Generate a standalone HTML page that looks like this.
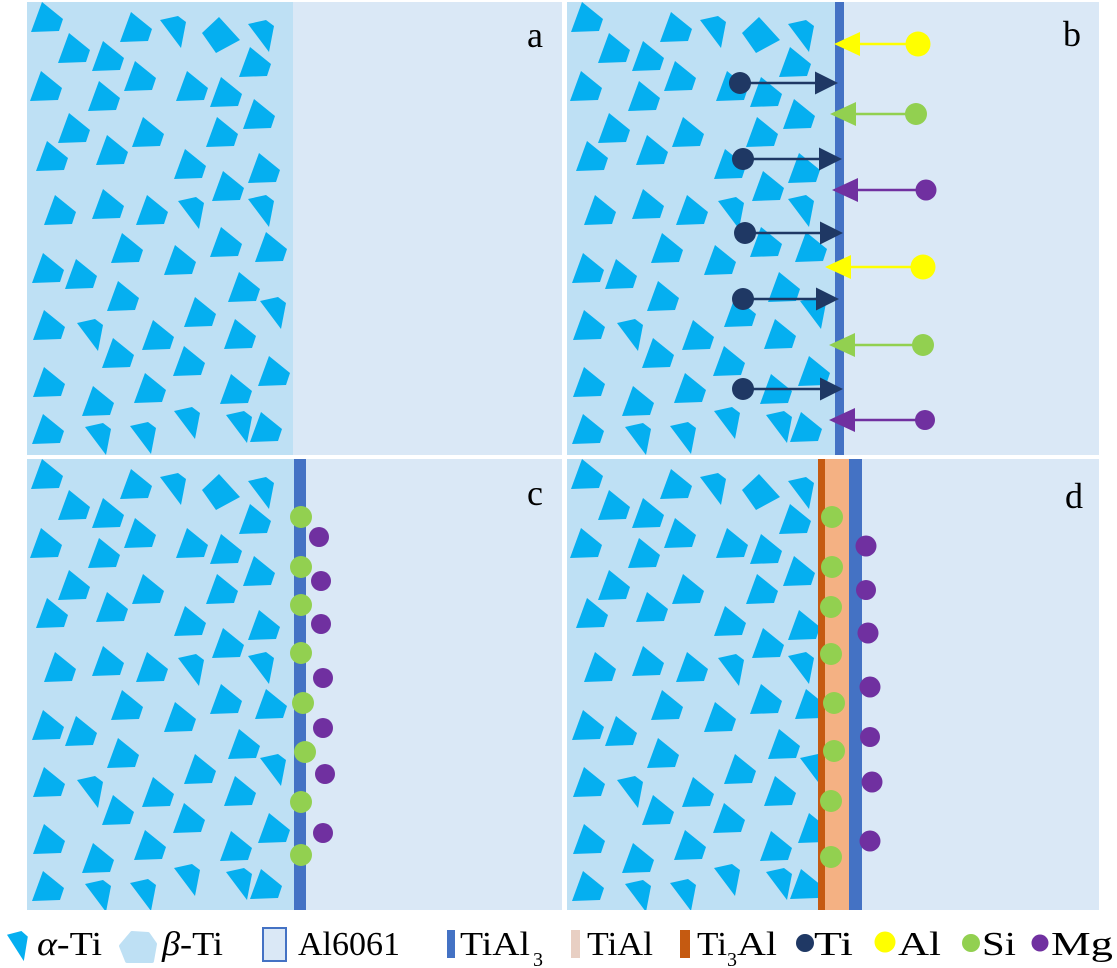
<!DOCTYPE html>
<html>
<head>
<meta charset="utf-8">
<style>
  html, body { margin: 0; padding: 0; background: #ffffff; }
  body { width: 1117px; height: 968px; overflow: hidden; }
  svg { display: block; }
  text { font-family: "Liberation Serif", "DejaVu Serif", serif; fill: #000; }
</style>
</head>
<body>
<svg width="1117" height="968" viewBox="0 0 1117 968" xmlns="http://www.w3.org/2000/svg">
  <defs>
    <polygon id="A" points="0,30 11,0 32,17 28,29" fill="#05aff0"/>
    <polygon id="B" points="0,4 18,0 26,6 21,32" fill="#05aff0"/>
    <polygon id="D" points="0,16 17,0 38,23 14,36" fill="#05aff0"/>
    <g id="pat">
      <use href="#A" x="31" y="2"/>
      <use href="#A" x="120" y="12"/>
      <use href="#A" x="58" y="33"/>
      <use href="#A" x="92" y="41"/>
      <use href="#A" x="239" y="47"/>
      <use href="#A" x="124" y="61"/>
      <use href="#A" x="30" y="71"/>
      <use href="#A" x="176" y="71"/>
      <use href="#A" x="210" y="77"/>
      <use href="#A" x="88" y="81"/>
      <use href="#A" x="243" y="99"/>
      <use href="#A" x="58" y="113"/>
      <use href="#A" x="132" y="117"/>
      <use href="#A" x="206" y="117"/>
      <use href="#A" x="36" y="141"/>
      <use href="#A" x="96" y="135"/>
      <use href="#A" x="174" y="149"/>
      <use href="#A" x="248" y="153"/>
      <use href="#A" x="212" y="171"/>
      <use href="#A" x="44" y="195"/>
      <use href="#A" x="92" y="189"/>
      <use href="#A" x="136" y="195"/>
      <use href="#A" x="111" y="233"/>
      <use href="#A" x="164" y="245"/>
      <use href="#A" x="210" y="227"/>
      <use href="#A" x="255" y="232"/>
      <use href="#A" x="32" y="253"/>
      <use href="#A" x="65" y="259"/>
      <use href="#A" x="107" y="281"/>
      <use href="#A" x="228" y="272"/>
      <use href="#A" x="184" y="297"/>
      <use href="#A" x="33" y="310"/>
      <use href="#A" x="142" y="320"/>
      <use href="#A" x="224" y="319"/>
      <use href="#A" x="102" y="338"/>
      <use href="#A" x="173" y="346"/>
      <use href="#A" x="33" y="367"/>
      <use href="#A" x="258" y="356"/>
      <use href="#A" x="220" y="374"/>
      <use href="#A" x="134" y="373"/>
      <use href="#A" x="82" y="386"/>
      <use href="#A" x="32" y="414"/>
      <use href="#A" x="250" y="412"/>
      <use href="#B" x="160" y="16"/>
      <use href="#B" x="248" y="20"/>
      <use href="#B" x="178" y="197"/>
      <use href="#B" x="248" y="195"/>
      <use href="#B" x="260" y="297"/>
      <use href="#B" x="77" y="319"/>
      <use href="#B" x="85" y="423"/>
      <use href="#B" x="130" y="422"/>
      <use href="#B" x="174" y="407"/>
      <use href="#B" x="226" y="411"/>
      <use href="#D" x="202" y="17"/>
    </g>
    <clipPath id="ca"><rect x="27" y="2" width="266" height="453"/></clipPath>
    <clipPath id="cb"><rect x="567" y="2" width="268" height="453"/></clipPath>
    <clipPath id="cc"><rect x="27" y="459" width="267" height="451"/></clipPath>
    <clipPath id="cd"><rect x="567" y="459" width="251" height="451"/></clipPath>
  </defs>

  <rect x="0" y="0" width="1117" height="968" fill="#ffffff"/>

  <!-- Panel a -->
  <rect x="27" y="2" width="535" height="453" fill="#dae8f6"/>
  <rect x="27" y="2" width="266" height="453" fill="#bee0f4"/>
  <g clip-path="url(#ca)"><use href="#pat"/></g>
  <text x="527" y="47" font-size="36">a</text>

  <!-- Panel b -->
  <rect x="567" y="2" width="532" height="453" fill="#dae8f6"/>
  <rect x="567" y="2" width="268" height="453" fill="#bee0f4"/>
  <g clip-path="url(#cb)"><use href="#pat" transform="translate(540,0)"/></g>
  <rect x="835" y="2" width="9" height="453" fill="#4472c4"/>
  <text x="1063" y="46" font-size="36">b</text>

  <g fill="#1f3864" stroke="#1f3864">
    <line x1="740" y1="83" x2="816" y2="83" stroke-width="2.5"/>
    <circle cx="740" cy="83" r="11" stroke="none"/>
    <polygon points="838,83 815,71.5 815,94.5" stroke="none"/>
    <line x1="743" y1="159" x2="820" y2="159" stroke-width="2.5"/>
    <circle cx="743" cy="159" r="11" stroke="none"/>
    <polygon points="842,159 819,147.5 819,170.5" stroke="none"/>
    <line x1="745" y1="233" x2="821" y2="233" stroke-width="2.5"/>
    <circle cx="745" cy="233" r="11" stroke="none"/>
    <polygon points="843,233 820,221.5 820,244.5" stroke="none"/>
    <line x1="743" y1="299" x2="817" y2="299" stroke-width="2.5"/>
    <circle cx="743" cy="299" r="11" stroke="none"/>
    <polygon points="839,299 816,287.5 816,310.5" stroke="none"/>
    <line x1="743" y1="389" x2="821" y2="389" stroke-width="2.5"/>
    <circle cx="743" cy="389" r="11" stroke="none"/>
    <polygon points="843,389 820,377.5 820,400.5" stroke="none"/>
  </g>

  <g>
    <line x1="858" y1="44" x2="918" y2="44" stroke="#ffff00" stroke-width="2.5"/>
    <circle cx="918" cy="44" r="12.5" fill="#ffff00"/>
    <polygon points="834,44 860,32 860,56" fill="#ffff00"/>
    <line x1="854" y1="114" x2="916" y2="114" stroke="#92d050" stroke-width="2.5"/>
    <circle cx="916" cy="114" r="11" fill="#92d050"/>
    <polygon points="830,114 856,102 856,126" fill="#92d050"/>
    <line x1="856" y1="190" x2="926" y2="190" stroke="#7030a0" stroke-width="2.5"/>
    <circle cx="926" cy="190" r="10.5" fill="#7030a0"/>
    <polygon points="832,190 858,178 858,202" fill="#7030a0"/>
    <line x1="849" y1="267" x2="923" y2="267" stroke="#ffff00" stroke-width="2.5"/>
    <circle cx="923" cy="267" r="12.5" fill="#ffff00"/>
    <polygon points="825,267 851,255 851,279" fill="#ffff00"/>
    <line x1="853" y1="345" x2="923" y2="345" stroke="#92d050" stroke-width="2.5"/>
    <circle cx="923" cy="345" r="11" fill="#92d050"/>
    <polygon points="829,345 855,333 855,357" fill="#92d050"/>
    <line x1="853" y1="420" x2="925" y2="420" stroke="#7030a0" stroke-width="2.5"/>
    <circle cx="925" cy="420" r="10" fill="#7030a0"/>
    <polygon points="829,420 855,408 855,432" fill="#7030a0"/>
  </g>

  <!-- Panel c -->
  <rect x="27" y="459" width="535" height="451" fill="#dae8f6"/>
  <rect x="27" y="459" width="267" height="451" fill="#bee0f4"/>
  <g clip-path="url(#cc)"><use href="#pat" transform="translate(0,457)"/></g>
  <rect x="294" y="459" width="12" height="451" fill="#4472c4"/>
  <text x="527" y="505" font-size="36">c</text>
  <g fill="#92d050">
    <circle cx="301" cy="517" r="11"/>
    <circle cx="301" cy="567" r="11"/>
    <circle cx="301" cy="605" r="11"/>
    <circle cx="301" cy="653" r="11"/>
    <circle cx="303" cy="703" r="11"/>
    <circle cx="305" cy="752" r="11"/>
    <circle cx="301" cy="802" r="11"/>
    <circle cx="301" cy="855" r="11"/>
  </g>
  <g fill="#7030a0">
    <circle cx="319" cy="537" r="10"/>
    <circle cx="321" cy="581" r="10"/>
    <circle cx="321" cy="624" r="10"/>
    <circle cx="323" cy="678" r="10"/>
    <circle cx="323" cy="728" r="10"/>
    <circle cx="325" cy="774" r="10"/>
    <circle cx="323" cy="833" r="10"/>
  </g>

  <!-- Panel d -->
  <rect x="567" y="459" width="532" height="451" fill="#dae8f6"/>
  <rect x="567" y="459" width="251" height="451" fill="#bee0f4"/>
  <g clip-path="url(#cd)"><use href="#pat" transform="translate(540,457)"/></g>
  <rect x="818" y="459" width="7" height="451" fill="#c55a11"/>
  <rect x="825" y="459" width="24" height="451" fill="#f4b183"/>
  <rect x="849" y="459" width="13" height="451" fill="#4472c4"/>
  <text x="1065" y="508" font-size="36">d</text>
  <g fill="#92d050">
    <circle cx="832" cy="517" r="11"/>
    <circle cx="832" cy="567" r="11"/>
    <circle cx="831" cy="607" r="11"/>
    <circle cx="831" cy="654" r="11"/>
    <circle cx="834" cy="703" r="11"/>
    <circle cx="834" cy="751" r="11"/>
    <circle cx="831" cy="801" r="11"/>
    <circle cx="831" cy="857" r="11"/>
  </g>
  <g fill="#7030a0">
    <circle cx="866" cy="546" r="10.5"/>
    <circle cx="866" cy="590" r="10"/>
    <circle cx="868" cy="633" r="10.5"/>
    <circle cx="870" cy="687" r="10.5"/>
    <circle cx="870" cy="737" r="10"/>
    <circle cx="872" cy="782" r="10.5"/>
    <circle cx="870" cy="841" r="10.5"/>
  </g>

  <!-- Legend -->
  <use href="#B" transform="translate(7,931) scale(0.8,0.94)"/>
  <text x="37" y="955" font-size="34" textLength="65" lengthAdjust="spacingAndGlyphs"><tspan font-style="italic">α</tspan>-Ti</text>

  <path d="M121,946 L132,933 L148,934 L155,944 L152,961 L127,961 Z" fill="#bee0f4" stroke="#bee0f4" stroke-width="4" stroke-linejoin="round"/>
  <text x="162" y="955" font-size="34" textLength="61" lengthAdjust="spacingAndGlyphs"><tspan font-style="italic">β</tspan>-Ti</text>

  <rect x="263" y="928" width="23" height="33" fill="#dae8f6" stroke="#4472c4" stroke-width="2"/>
  <text x="298" y="955" font-size="34" textLength="102" lengthAdjust="spacingAndGlyphs">Al6061</text>

  <rect x="447" y="930" width="8" height="28" fill="#4472c4"/>
  <text x="460" y="955" font-size="34" textLength="70" lengthAdjust="spacingAndGlyphs">TiAl</text>
  <text x="533" y="966" font-size="20">3</text>

  <rect x="571" y="930" width="9" height="28" fill="#e8cfc3"/>
  <text x="587" y="955" font-size="34" textLength="66" lengthAdjust="spacingAndGlyphs">TiAl</text>

  <rect x="680" y="930" width="10" height="28" fill="#c55a11"/>
  <text x="697" y="955" font-size="34" textLength="30" lengthAdjust="spacingAndGlyphs">Ti</text>
  <text x="727" y="966" font-size="20">3</text>
  <text x="737" y="955" font-size="34" textLength="40" lengthAdjust="spacingAndGlyphs">Al</text>

  <circle cx="805" cy="943" r="9" fill="#1f3864"/>
  <text x="814" y="955" font-size="34" textLength="39" lengthAdjust="spacingAndGlyphs">Ti</text>

  <circle cx="885" cy="942" r="10.5" fill="#ffff00"/>
  <text x="898" y="955" font-size="34" textLength="43" lengthAdjust="spacingAndGlyphs">Al</text>

  <circle cx="971" cy="943" r="9" fill="#92d050"/>
  <text x="982" y="955" font-size="34" textLength="34" lengthAdjust="spacingAndGlyphs">Si</text>

  <circle cx="1040" cy="943" r="8.5" fill="#7030a0"/>
  <text x="1051" y="955" font-size="34" textLength="62" lengthAdjust="spacingAndGlyphs">Mg</text>
</svg>
</body>
</html>
